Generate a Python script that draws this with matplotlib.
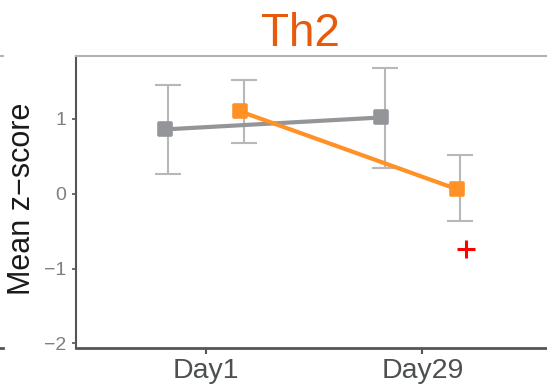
import matplotlib
matplotlib.use("Agg")
import matplotlib.pyplot as plt
from matplotlib.markers import MarkerStyle
from matplotlib.lines import Line2D

plt.rcParams['font.family'] = ['Liberation Sans', 'DejaVu Sans']

# ---- data ----
days = ["Day1", "Day29"]
gray_mean = [0.86, 1.02]
gray_low = [0.26, 0.35]
gray_high = [1.46, 1.68]
orange_mean = [1.10, 0.06]
orange_low = [0.68, -0.37]
orange_high = [1.52, 0.52]
sig_day = ["Day29"]
sig_value = [-0.74]
title = "Th2"
ylabel = "Mean z\u2212score"
yticks = [-2, -1, 0, 1]

# ---- style ----
GRAY = "#949598"
ORANGE = "#FF9126"
ERR = "#B8B8B8"

fig = plt.figure(figsize=(5.47, 3.85), dpi=100)
ax = fig.add_axes([76 / 547, 1 - 348.3 / 385, 1 - 76 / 547, (348.3 - 55.7) / 385])

xpos = {d: i + 1 for i, d in enumerate(days)}
xs = [xpos[d] for d in days]

def draw(means, lows, highs, color, moff, eoff, z):
    mx = [x + moff for x in xs]
    ex = [x + eoff for x in xs]
    yerr = [[m - l for m, l in zip(means, lows)], [h - m for m, h in zip(means, highs)]]
    ax.errorbar(ex, means, yerr=yerr, fmt='none', ecolor=ERR, elinewidth=1.5,
                capsize=9.4, capthick=1.5, zorder=1)
    ax.plot(mx, means, color=color, lw=3.0, zorder=z, solid_capstyle='butt')
    ax.plot(mx, means, linestyle='none', marker=MarkerStyle('s', joinstyle='round'),
            markersize=9.3, markerfacecolor=color, markeredgecolor=color,
            markeredgewidth=2.6, zorder=z + 2)

draw(gray_mean, gray_low, gray_high, GRAY, -0.19, -0.175, 3)
draw(orange_mean, orange_low, orange_high, ORANGE, 0.16, 0.175, 4)

ax.plot([xpos[d] + 0.20 for d in sig_day], sig_value, linestyle='none', marker='+',
        color='#FF0000', markersize=13, markeredgewidth=2.2, zorder=8)

ax.set_xlim(0.401, 2.575)
ax.set_ylim(-2.067, 1.846)
ax.set_xticks(xs)
ax.set_xticklabels(days, fontsize=20.5, color='#4D5050')
ax.set_yticks(yticks)
ax.set_yticklabels([str(t).replace('-', '\u2212') for t in yticks], fontsize=14, color='#7F7F7F')
ax.tick_params(axis='y', length=3, width=1.2, color='#555555', pad=4)
ax.tick_params(axis='x', length=4, width=1.5, color='#555555', pad=3)

ax.spines['right'].set_visible(False)
ax.spines['top'].set_color('#B3B3B3')
ax.spines['top'].set_linewidth(1.5)
ax.spines['left'].set_color('#555555')
ax.spines['left'].set_linewidth(1.5)
ax.spines['bottom'].set_color('#555555')
ax.spines['bottom'].set_linewidth(2.0)

fig.text(22 / 547, 1 - 199 / 385, ylabel, rotation=90, fontsize=22, color='#1A1A1A',
         ha='center', va='center')
fig.text(300 / 547, 1 - 46 / 385, title, fontsize=33, color='#E65A0A',
         ha='center', va='baseline')

# remnants of neighbouring panel at left edge
fig.add_artist(Line2D([0, 3 / 547], [1 - 56 / 385, 1 - 56 / 385], color='#B3B3B3', lw=1.5,
                      transform=fig.transFigure))
fig.add_artist(Line2D([0, 3 / 547], [1 - 348 / 385, 1 - 348 / 385], color='#555555', lw=2,
                      transform=fig.transFigure))

fig.savefig("out.png", dpi=100)
